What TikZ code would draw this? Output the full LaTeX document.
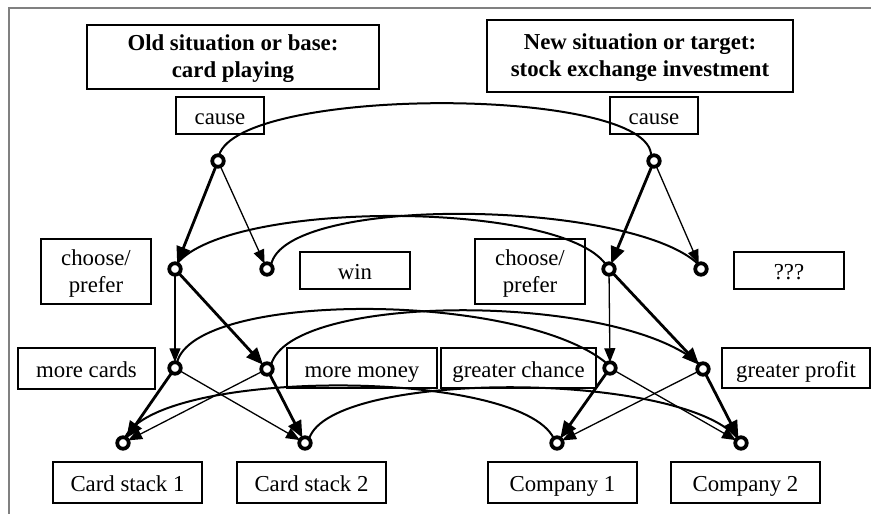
\documentclass[tikz,border=0pt]{standalone}
\usepackage{fontspec}
\setmainfont{Liberation Serif}
\usetikzlibrary{arrows.meta}
\newcommand\myfs{\fontsize{22.8}{27}\selectfont}
\begin{document}
\begin{tikzpicture}[x=1pt,y=-1pt,
  every node/.style={font=\myfs},
  box/.style={draw, line width=1.3pt, inner sep=0pt, outer sep=0pt, align=center},
  sbox/.style={box, text height=20pt, text depth=2pt},
  dot/.style={circle, draw, line width=3.8pt, minimum size=11.5pt, inner sep=0pt, outer sep=0pt},
  tk/.style={line width=2.8pt, -{Triangle[length=17pt,width=14pt]}},
  tn/.style={line width=1.3pt, -{Triangle[length=14pt,width=11pt]}},
  cv/.style={line width=2pt},
  frame/.style={draw=gray, line width=1.4pt}]
\useasboundingbox (0,0) rectangle (871,514);
\draw[frame] (9,514) -- (9,8) -- (871,8);

% titles
\node[box, minimum width=292pt, minimum height=64pt, font=\myfs\bfseries] (tL) at (233,57) {\rule{0pt}{20pt}Old situation or base:\\card playing};
\node[box, minimum width=306pt, minimum height=72pt, font=\myfs\bfseries] (tR) at (640,56) {\rule{0pt}{20pt}New situation or target:\\stock exchange investment};

% labels
\node[sbox, minimum width=88pt, minimum height=37pt] (causeL) at (220,115.5) {cause};
\node[sbox, minimum width=88pt, minimum height=37pt] (causeR) at (654,115.5) {cause};
\node[box, minimum width=110pt, minimum height=65pt] (chooseL) at (96,271.5) {\rule{0pt}{20pt}choose/\\prefer};
\node[sbox, minimum width=110pt, minimum height=37pt] (win) at (355,270.5) {win};
\node[box, minimum width=110pt, minimum height=65pt] (chooseR) at (530,271.5) {\rule{0pt}{20pt}choose/\\prefer};
\node[sbox, minimum width=110pt, minimum height=37pt] (qqq) at (789,270.5) {???};
\node[sbox, minimum width=137pt, minimum height=41pt] (morecards) at (86.5,368.5) {more cards};
\node[sbox, minimum width=150pt, minimum height=40pt] (moremoney) at (362,368) {more money};
\node[sbox, minimum width=155pt, minimum height=40pt] (gchance) at (518.5,368) {greater chance};
\node[sbox, minimum width=148pt, minimum height=40pt] (gprofit) at (796,368) {greater profit};
\node[sbox, minimum width=149pt, minimum height=41pt] (stack1) at (127.5,482.5) {Card stack 1};
\node[sbox, minimum width=149pt, minimum height=41pt] (stack2) at (311.5,482.5) {Card stack 2};
\node[sbox, minimum width=149pt, minimum height=41pt] (comp1) at (562.5,482.5) {Company 1};
\node[sbox, minimum width=149pt, minimum height=41pt] (comp2) at (745.5,482.5) {Company 2};

% dots
\node[dot] (cL) at (218,161) {};
\node[dot] (cR) at (654,161) {};
\node[dot] (chL) at (175,269) {};
\node[dot] (wn) at (267,269) {};
\node[dot] (chR) at (609,269) {};
\node[dot] (qq) at (701,269) {};
\node[dot] (mc) at (175,368) {};
\node[dot] (mm) at (267,369) {};
\node[dot] (gc) at (610,368) {};
\node[dot] (gp) at (703,369) {};
\node[dot] (s1) at (123,443) {};
\node[dot] (s2) at (305,443) {};
\node[dot] (k1) at (557,443) {};
\node[dot] (k2) at (741,443) {};

% arrows left
\draw[tk] (cL) -- (chL);
\draw[tn] (cL) -- (wn);
\draw[tn] (chL) -- (mc);
\draw[tk] (chL) -- (mm);
\draw[tk] (mc) -- (s1);
\draw[tn] (mc) -- (s2);
\draw[tn] (mm) -- (s1);
\draw[tk] (mm) -- (s2);
% arrows right
\draw[tk] (cR) -- (chR);
\draw[tn] (cR) -- (qq);
\draw[tn] (chR) -- (gc);
\draw[tk] (chR) -- (gp);
\draw[tk] (gc) -- (k1);
\draw[tn] (gc) -- (k2);
\draw[tn] (gp) -- (k1);
\draw[tk] (gp) -- (k2);

% mapping curves
\draw[cv] (cL.80) .. controls +(21,-70) and +(1,-70) .. (cR.120);
\draw[cv] (chL.70) .. controls +(53,-64) and +(-46,-64) .. (chR.125);
\draw[cv] (wn.45) .. controls +(14,-71) and +(-68,-64) .. (qq.120);
\draw[cv] (mc.70) .. controls +(18,-72) and +(-87,-72) .. (gc.125);
\draw[cv] (mm.45) .. controls +(19,-73) and +(-80,-72) .. (gp.125);
\draw[cv] (s1.70) .. controls +(35,-70) and +(-34,-70) .. (k1.125);
\draw[cv] (s2.45) .. controls +(21,-69) and +(-58,-68) .. (k2.125);
\end{tikzpicture}
\end{document}
